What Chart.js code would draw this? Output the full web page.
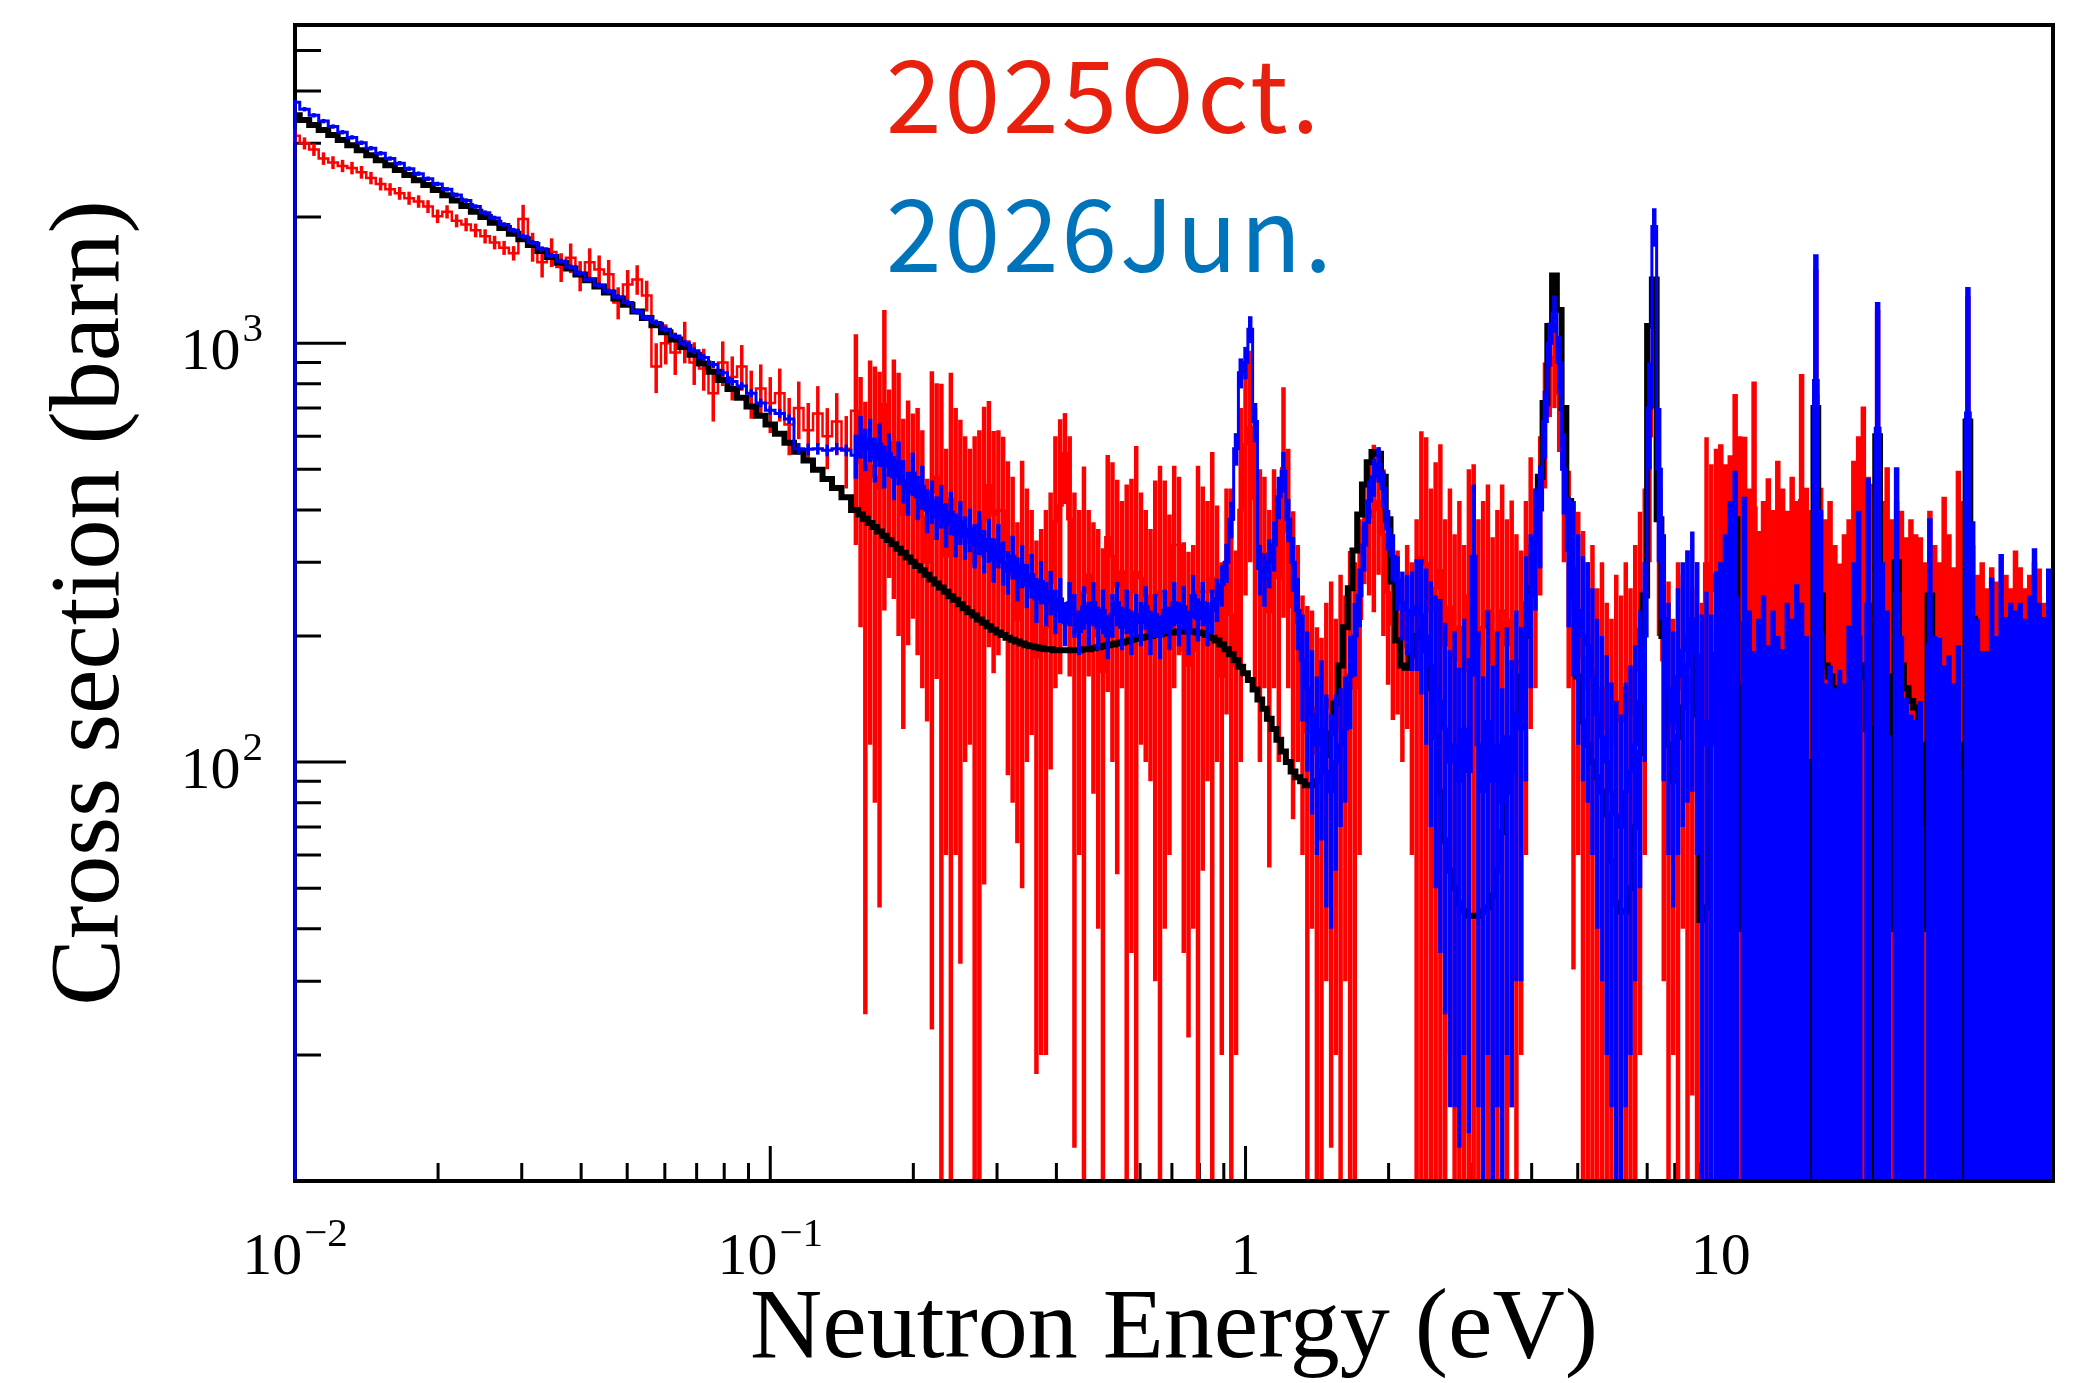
<!DOCTYPE html>
<html>
<head>
<meta charset="utf-8">
<title>Cross section</title>
<script src="https://cdn.jsdelivr.net/npm/chart.js@4.4.1/dist/chart.umd.min.js"></script>
<style>
  html, body { margin: 0; padding: 0; background: #fff; }
  canvas { display: block; }
</style>
</head>
<body>
<canvas id="chartCanvas" width="2073" height="1383"></canvas>
<script>
// bin centres in eV (thermal / epithermal / 1-10 eV / 10-50 eV)
const energy = [
  0.01000, 0.01047, 0.01096, 0.01148, 0.01202, 0.01259, 0.01318, 0.01380, 0.01445, 0.01514,
  0.01585, 0.01660, 0.01738, 0.01820, 0.01905, 0.01995, 0.02089, 0.02188, 0.02291, 0.02399,
  0.02512, 0.02630, 0.02754, 0.02884, 0.03020, 0.03162, 0.03311, 0.03467, 0.03631, 0.03802,
  0.03981, 0.04169, 0.04365, 0.04571, 0.04786, 0.05012, 0.05248, 0.05495, 0.05754, 0.06026,
  0.06310, 0.06607, 0.06918, 0.07244, 0.07586, 0.07943, 0.08318, 0.08710, 0.09120, 0.09550,
  0.1000, 0.1047, 0.1096, 0.1148, 0.1202, 0.1259, 0.1318, 0.1380, 0.1445,

  0.1514, 0.1549, 0.1585, 0.1622, 0.1660, 0.1698, 0.1738, 0.1778, 0.1820, 0.1862,
  0.1905, 0.1950, 0.1995, 0.2042, 0.2089, 0.2138, 0.2188, 0.2239, 0.2291, 0.2344,
  0.2399, 0.2455, 0.2512, 0.2570, 0.2630, 0.2692, 0.2754, 0.2818, 0.2884, 0.2951,
  0.3020, 0.3090, 0.3162, 0.3236, 0.3311, 0.3388, 0.3467, 0.3548, 0.3631, 0.3715,
  0.3802, 0.3890, 0.3981, 0.4074, 0.4169, 0.4266, 0.4365, 0.4467, 0.4571, 0.4677,
  0.4786, 0.4898, 0.5012, 0.5129, 0.5248, 0.5370, 0.5495, 0.5623, 0.5754, 0.5888,
  0.6026, 0.6166, 0.6310, 0.6457, 0.6607, 0.6761, 0.6918, 0.7079, 0.7244, 0.7413,
  0.7586, 0.7762, 0.7943, 0.8128, 0.8318, 0.8511, 0.8710, 0.8913, 0.9120, 0.9333,
  0.9550, 0.9772,

  1.000, 1.023, 1.047, 1.072, 1.096, 1.122, 1.148, 1.175, 1.202, 1.230,
  1.259, 1.288, 1.318, 1.349, 1.380, 1.413, 1.445, 1.479, 1.514, 1.549,
  1.585, 1.622, 1.660, 1.698, 1.738, 1.778, 1.820, 1.862, 1.905, 1.950,
  1.995, 2.042, 2.089, 2.138, 2.188, 2.239, 2.291, 2.344, 2.399, 2.455,
  2.512, 2.570, 2.630, 2.692, 2.754, 2.818, 2.884, 2.951, 3.020, 3.090,
  3.162, 3.236, 3.311, 3.388, 3.467, 3.548, 3.631, 3.715, 3.802, 3.890,
  3.981, 4.074, 4.169, 4.266, 4.365, 4.467, 4.571, 4.677, 4.786, 4.898,
  5.012, 5.129, 5.248, 5.370, 5.495, 5.623, 5.754, 5.888, 6.026, 6.166,
  6.310, 6.457, 6.607, 6.761, 6.918, 7.079, 7.244, 7.413, 7.586, 7.762,
  7.943, 8.128, 8.318, 8.511, 8.710, 8.913, 9.120, 9.333, 9.550, 9.772,

  10.00, 10.23, 10.47, 10.72, 10.96, 11.22, 11.48, 11.75, 12.02, 12.30,
  12.59, 12.88, 13.18, 13.49, 13.80, 14.13, 14.45, 14.79, 15.14, 15.49,
  15.85, 16.22, 16.60, 16.98, 17.38, 17.78, 18.20, 18.62, 19.05, 19.50,
  19.95, 20.42, 20.89, 21.38, 21.88, 22.39, 22.91, 23.44, 23.99, 24.55,
  25.12, 25.70, 26.30, 26.92, 27.54, 28.18, 28.84, 29.51, 30.20, 30.90,
  31.62, 32.36, 33.11, 33.88, 34.67, 35.48, 36.31, 37.15, 38.02, 38.90,
  39.81, 40.74, 41.69, 42.66, 43.65, 44.67, 45.71, 46.77, 47.86, 48.98
];

// evaluated cross section (barn), black
const evaluated = [
  3500, 3410, 3320, 3230, 3140, 3055, 2970, 2890, 2810, 2735,
  2660, 2590, 2520, 2450, 2385, 2320, 2255, 2190, 2125, 2060,
  2000, 1940, 1885, 1825, 1770, 1715, 1660, 1607, 1556, 1507,
  1459, 1413, 1365, 1321, 1279, 1236, 1191, 1148, 1104, 1062,
  1021, 980, 938, 895, 855, 817, 778, 741, 706, 671,
  640, 608, 579, 551, 525, 499, 474, 451, 429,

  400, 390, 381, 372, 364, 355, 347, 339, 331, 323,
  316, 308, 301, 294, 287, 280, 273, 267, 261, 255,
  249, 244, 238, 233, 228, 224, 219, 215, 211, 207,
  204, 201, 198, 196, 194, 192, 190, 189, 188, 187,
  186, 186, 185, 185, 185, 185, 185, 185, 186, 186,
  187, 188, 189, 190, 191, 192, 193, 194, 196, 197,
  198, 199, 200, 201, 202, 203, 204, 204, 205, 205,
  205, 205, 204, 203, 201, 198, 195, 191, 186, 181,
  175, 169,

  163, 157, 149, 141, 134, 127, 120, 113, 106, 100,
  95, 92, 90, 88, 88, 90, 95, 104, 117, 138,
  170, 210, 260, 320, 390, 460, 520, 550, 545, 480,
  380, 270, 195, 170, 168, 180, 200, 205, 185, 150,
  115, 85, 65, 55, 50, 46, 44, 43, 43, 43,
  44, 45, 48, 55, 68, 85, 105, 130, 160, 200,
  260, 340, 480, 720, 1100, 1450, 1200, 700, 420, 250,
  160, 125, 110, 100, 92, 85, 75, 58, 46, 44,
  44, 50, 70, 105, 250, 1100, 1420, 380, 200, 110,
  90, 115, 135, 170, 210, 130, 42, 45, 120, 180,

  200, 230, 300, 380, 40, 150, 160, 160, 165, 170,
  170, 175, 175, 180, 180, 185, 190, 185, 100, 8,
  700, 250, 170, 160, 150, 145, 140, 145, 150, 160,
  170, 120, 8, 600, 220, 160, 40, 300, 170, 150,
  140, 135, 110, 40, 250, 170, 150, 140, 145, 135,
  110, 8, 650, 220, 160, 150, 145, 140, 140, 145,
  150, 150, 155, 160, 165, 170, 175, 150, 30, 180
];

// 2025Oct. measurement (barn) and its errors, red
const oct2025 = [
  3130, 3000, 2900, 2760, 2700, 2650, 2620, 2560, 2480, 2400,
  2330, 2280, 2220, 2180, 2120, 2010, 2060, 1960, 1920, 1860,
  1800, 1740, 1690, 1640, 1980, 1700, 1560, 1650, 1520, 1600,
  1450, 1560, 1500, 1460, 1250, 1380, 1420, 1300, 880, 1000,
  950, 1010, 900, 870, 760, 900, 830, 880, 760, 780,
  720, 760, 640, 700, 620, 680, 600, 650, 560,

  690, 520, 375, 510, 480, 450, 715, 525, 580, 525,
  390, 460, 450, 440, 385, 300, 440, 480, 400, 310,
  425, 380, 345, 350, 335, 300, 310, 378, 458, 390,
  400, 398, 308, 280, 219, 287, 275, 258, 178, 190,
  210, 268, 375, 410, 547, 380, 226, 230, 254, 280,
  229, 200, 164, 344, 310, 263, 285, 230, 255, 284,
  275, 250, 225, 250, 255, 255, 225, 330, 330, 185,
  170, 185, 255, 255, 255, 275, 255, 160, 290, 225,
  170, 400,

  575, 630, 425, 300, 315, 228, 325, 275, 503, 355,
  235, 215, 155, 118, 135, 105, 99, 135, 141, 120,
  140, 140, 162, 150, 220, 363, 385, 400, 420, 350,
  254, 213, 225, 188, 225, 180, 190, 308, 298, 230,
  260, 287, 190, 235, 175, 210, 165, 250, 257, 190,
  210, 230, 172, 200, 230, 190, 218, 175, 170, 240,
  327, 300, 425, 675, 883, 928, 757, 500, 323, 226,
  228, 178, 150, 165, 130, 150, 120, 110, 140, 125,
  150, 130, 165, 208, 255, 600, 1068, 450, 175, 135,
  120, 150, 160, 160, 138, 150, 120, 298, 257, 280,

  287, 257, 270, 378, 300, 299, 225, 405, 178, 210,
  238, 200, 262, 225, 199, 240, 210, 422, 226, 200,
  750, 226, 190, 210, 165, 149, 175, 190, 262, 300,
  353, 240, 231, 600, 210, 253, 190, 210, 199, 172,
  190, 175, 172, 150, 199, 165, 150, 215, 175, 146,
  248, 210, 650, 165, 140, 150, 130, 146, 135, 125,
  140, 130, 160, 146, 130, 140, 150, 145, 120, 110
];
const oct2025Err = [
  110, 100, 100, 95, 95, 90, 90, 90, 85, 85,
  80, 80, 80, 75, 75, 75, 75, 70, 70, 70,
  70, 65, 65, 65, 160, 135, 125, 130, 120, 130,
  120, 125, 120, 120, 110, 115, 115, 110, 120, 110,
  110, 115, 105, 100, 110, 110, 100, 110, 100, 110,
  110, 110, 100, 110, 100, 110, 100, 110, 110,

  360, 310, 350, 400, 400, 405, 485, 250, 335, 325,
  270, 270, 230, 260, 235, 175, 417, 322, 400, 250,
  425, 320, 312, 250, 225, 300, 310, 327, 270, 227,
  220, 200, 215, 200, 155, 237, 175, 142, 160, 170,
  190, 172, 225, 248, 134, 220, 214, 170, 254, 120,
  145, 160, 160, 197, 210, 209, 135, 230, 220, 284,
  165, 150, 135, 220, 255, 215, 165, 180, 150, 150,
  148, 145, 255, 200, 165, 275, 155, 140, 160, 225,
  150, 300,

  325, 330, 275, 200, 165, 172, 175, 175, 282, 205,
  162, 115, 95, 118, 95, 105, 99, 105, 129, 100,
  140, 110, 157, 150, 160, 97, 135, 172, 140, 150,
  101, 87, 95, 88, 105, 120, 190, 308, 298, 220,
  260, 287, 190, 215, 175, 210, 165, 250, 257, 190,
  210, 230, 172, 200, 230, 190, 203, 175, 150, 180,
  207, 150, 175, 225, 217, 228, 207, 200, 173, 194,
  168, 178, 150, 165, 130, 150, 120, 110, 140, 125,
  150, 130, 165, 188, 195, 300, 368, 250, 145, 135,
  100, 150, 120, 160, 122, 150, 120, 298, 257, 280,

  287, 257, 270, 378, 300, 299, 225, 405, 178, 210,
  238, 200, 262, 225, 199, 240, 210, 422, 226, 200,
  750, 226, 190, 210, 165, 149, 175, 190, 262, 300,
  353, 240, 231, 600, 210, 253, 190, 210, 199, 172,
  190, 175, 172, 150, 199, 165, 150, 215, 175, 146,
  248, 210, 650, 165, 140, 150, 130, 146, 135, 125,
  140, 130, 160, 146, 130, 140, 150, 145, 120, 110
];

// 2026Jun. measurement (barn) and its errors, blue
const jun2026 = [
  3760, 3620, 3500, 3390, 3290, 3190, 3100, 3010, 2920, 2840,
  2760, 2690, 2610, 2540, 2470, 2400, 2330, 2260, 2190, 2120,
  2050, 1990, 1920, 1860, 1800, 1740, 1680, 1620, 1570, 1520,
  1470, 1420, 1375, 1330, 1290, 1250, 1190, 1150, 1120, 1080,
  1040, 1000, 960, 925, 890, 850, 810, 790, 760, 720,
  692, 680, 659, 560, 558, 560, 555, 560, 555,

  540, 600, 560, 590, 530, 575, 510, 545, 480, 520,
  470, 440, 490, 430, 455, 400, 420, 385, 410, 370,
  395, 350, 375, 345, 360, 330, 355, 320, 340, 305,
  330, 300, 285, 310, 275, 295, 265, 280, 245, 270,
  240, 255, 230, 245, 215, 240, 225, 205, 235, 215,
  240, 210, 230, 200, 225, 240, 210, 230, 205, 225,
  215, 235, 205, 225, 200, 230, 210, 240, 215, 235,
  205, 250, 220, 240, 215, 230, 245, 265, 300, 380,
  560, 850,

  900, 1080, 650, 290, 275, 300, 330, 430, 495, 380,
  300, 230, 175, 150, 130, 110, 120, 95, 85, 100,
  110, 120, 160, 200, 250, 330, 420, 480, 515, 450,
  360, 310, 270, 240, 230, 225, 235, 225, 200, 170,
  150, 140, 120, 100, 110, 90, 120, 95, 310, 110,
  85, 125, 90, 110, 80, 115, 95, 130, 120, 200,
  250, 340, 400, 650, 1000, 1180, 900, 500, 320, 290,
  230, 200, 190, 160, 130, 115, 100, 85, 75, 70,
  85, 95, 110, 140, 200, 700, 1900, 500, 220, 150,
  125, 160, 185, 200, 220, 180, 110, 125, 110, 140,

  150, 175, 210, 248, 3, 215, 115, 92, 110, 125,
  95, 115, 100, 93, 120, 110, 133, 120, 100, 3,
  815, 200, 77, 85, 75, 83, 77, 106, 150, 199,
  3, 238, 3, 627, 150, 115, 3, 253, 100, 71,
  65, 63, 70, 3, 191, 100, 99, 85, 90, 77,
  95, 3, 681, 188, 110, 92, 92, 138, 100, 157,
  111, 120, 115, 120, 110, 125, 162, 120, 111, 145
];
const jun2026Err = [
  45, 44, 42, 41, 40, 39, 38, 37, 36, 35,
  34, 33, 32, 31, 31, 30, 29, 28, 28, 27,
  26, 26, 25, 25, 24, 24, 23, 23, 22, 22,
  21, 21, 21, 20, 20, 20, 19, 19, 19, 18,
  18, 18, 18, 17, 17, 17, 17, 17, 17, 17,
  17, 17, 17, 18, 18, 18, 18, 18, 18,

  65, 70, 65, 70, 65, 68, 60, 65, 58, 62,
  56, 53, 58, 52, 55, 48, 50, 46, 49, 45,
  47, 42, 45, 41, 43, 40, 43, 38, 41, 37,
  40, 36, 34, 37, 33, 35, 32, 34, 30, 32,
  29, 31, 28, 30, 26, 29, 27, 25, 28, 26,
  29, 25, 28, 24, 27, 29, 25, 28, 25, 27,
  26, 28, 25, 27, 24, 28, 25, 29, 26, 28,
  25, 30, 26, 29, 26, 28, 29, 30, 32, 38,
  50, 70,

  80, 80, 70, 40, 40, 40, 45, 50, 55, 45,
  45, 45, 50, 55, 55, 50, 55, 50, 45, 45,
  40, 40, 40, 40, 40, 45, 50, 50, 50, 45,
  40, 40, 40, 45, 50, 60, 70, 80, 90, 100,
  100, 105, 95, 85, 95, 78, 100, 82, 150, 95,
  75, 105, 80, 95, 70, 95, 80, 100, 90, 110,
  100, 110, 110, 120, 120, 120, 140, 110, 110, 130,
  120, 110, 110, 100, 90, 85, 80, 70, 65, 60,
  70, 75, 80, 90, 100, 200, 200, 200, 130, 90,
  80, 100, 115, 120, 135, 120, 115, 130, 115, 145,

  150, 175, 210, 248, 1, 215, 115, 92, 110, 125,
  95, 115, 100, 93, 120, 110, 133, 120, 100, 1,
  815, 200, 77, 85, 75, 83, 77, 106, 150, 199,
  1, 238, 1, 627, 150, 115, 1, 253, 100, 71,
  65, 63, 70, 1, 191, 100, 99, 85, 90, 77,
  95, 1, 681, 188, 110, 92, 92, 138, 100, 157,
  111, 120, 115, 120, 110, 125, 162, 120, 111, 145
];

// axis ticks and labels
const xMajorTicks = [0.01, 0.1, 1, 10];
const xMinorTicks = [0.02, 0.03, 0.04, 0.05, 0.06, 0.07, 0.08, 0.09,
  0.2, 0.3, 0.4, 0.5, 0.6, 0.7, 0.8, 0.9, 2, 3, 4, 5, 6, 7, 8, 9, 20, 30, 40];
const xTickLabels = [["10", "\u22122"], ["10", "\u22121"], ["1", ""], ["10", ""]];
const yMajorTicks = [100, 1000];
const yMinorTicks = [20, 30, 40, 50, 60, 70, 80, 90,
  200, 300, 400, 500, 600, 700, 800, 900, 2000, 3000, 4000, 5000];
const yTickLabels = [["10", "2"], ["10", "3"]];

const serif = '"Liberation Serif", "Times New Roman", serif';
const sans = '"Noto Sans CJK JP", "Noto Sans", sans-serif';

const histLine = (vals) => energy.map((e, i) => ({ x: e, y: vals[i] }));

const errorBars = (vals, errs) => {
  const pts = [];
  energy.forEach((e, i) => {
    pts.push({ x: e, y: Math.max(vals[i] - errs[i], 1) });
    pts.push({ x: e, y: vals[i] + errs[i] });
    pts.push({ x: e, y: null });
  });
  return pts;
};

// bars get wider where the bins are packed tighter
const barWidth = (ctx) => {
  const e = ctx.p0.parsed.x;
  if (e >= 9.9) return 5.5;
  if (e >= 0.15) return 4.5;
  return 3.5;
};

const drawPower = (ctx, base, exp, x, y, align) => {
  ctx.font = "60px " + serif;
  const wb = ctx.measureText(base).width;
  ctx.font = "41px " + serif;
  const we = exp ? ctx.measureText(exp).width + 2 : 0;
  const total = wb + we;
  const left = align === "center" ? x - total / 2 : x - total;
  ctx.textAlign = "left";
  ctx.font = "60px " + serif;
  ctx.fillText(base, left, y);
  if (exp) {
    ctx.font = "41px " + serif;
    ctx.fillText(exp, left + wb + 2, y - 28);
  }
};

const rootAxes = {
  id: "rootAxes",
  beforeDatasetsDraw(chart) {
    const { ctx, chartArea: a, scales: { x, y } } = chart;
    ctx.save();
    ctx.strokeStyle = "#000";
    ctx.lineWidth = 4;
    ctx.strokeRect(a.left, a.top, a.right - a.left, a.bottom - a.top);
    ctx.lineWidth = 3;
    ctx.beginPath();
    const tick = (px, py, dx, dy) => { ctx.moveTo(px, py); ctx.lineTo(px + dx, py + dy); };
    xMinorTicks.forEach(v => tick(x.getPixelForValue(v), a.bottom, 0, -18));
    xMajorTicks.forEach(v => tick(x.getPixelForValue(v), a.bottom, 0, -35));
    yMinorTicks.forEach(v => tick(a.left, y.getPixelForValue(v), 26, 0));
    yMajorTicks.forEach(v => tick(a.left, y.getPixelForValue(v), 51, 0));
    ctx.stroke();
    ctx.restore();
  },
  afterDraw(chart) {
    const { ctx, chartArea: a, scales: { x, y } } = chart;
    ctx.save();
    ctx.fillStyle = "#000";
    ctx.textBaseline = "alphabetic";
    xMajorTicks.forEach((v, i) => {
      drawPower(ctx, xTickLabels[i][0], xTickLabels[i][1], x.getPixelForValue(v), 1274, "center");
    });
    yMajorTicks.forEach((v, i) => {
      drawPower(ctx, yTickLabels[i][0], yTickLabels[i][1], a.left - 32, y.getPixelForValue(v) + 26, "right");
    });

    ctx.font = "100px " + serif;
    ctx.textAlign = "center";
    ctx.fillText("Neutron Energy (eV)", (a.left + a.right) / 2, 1357);
    ctx.save();
    ctx.translate(118, (a.top + a.bottom) / 2);
    ctx.rotate(-Math.PI / 2);
    ctx.fillText("Cross section (barn)", 0, 0);
    ctx.restore();

    ctx.font = "100px " + sans;
    ctx.textAlign = "left";
    ctx.letterSpacing = "3px";
    ctx.fillStyle = "#e8210f";
    ctx.fillText("2025Oct.", 886, 133);
    ctx.fillStyle = "#0074bb";
    ctx.fillText("2026Jun.", 886, 272);
    ctx.restore();
  }
};

const clipBox = { left: 3, top: 0, right: 0, bottom: -2 };

new Chart(document.getElementById("chartCanvas").getContext("2d"), {
  type: "line",
  data: {
    datasets: [
      {
        label: "2026Jun. errors",
        data: errorBars(jun2026, jun2026Err),
        borderColor: "#0000ff",
        borderWidth: 3.5,
        segment: { borderWidth: barWidth },
        clip: clipBox,
        order: 0,
      },
      {
        label: "2026Jun.",
        data: [{ x: energy[0], y: 1 }, ...histLine(jun2026)],
        borderColor: "#0000ff",
        borderWidth: 3,
        stepped: "middle",
        clip: clipBox,
        order: 1,
      },
      {
        label: "Evaluated",
        data: histLine(evaluated),
        borderColor: "#000000",
        borderWidth: 6,
        stepped: "middle",
        clip: clipBox,
        order: 2,
      },
      {
        label: "2025Oct.",
        data: histLine(oct2025),
        borderColor: "#ff0000",
        borderWidth: 2.5,
        stepped: "middle",
        clip: clipBox,
        order: 3,
      },
      {
        label: "2025Oct. errors",
        data: errorBars(oct2025, oct2025Err),
        borderColor: "#ff0000",
        borderWidth: 3.5,
        segment: { borderWidth: barWidth },
        clip: clipBox,
        order: 4,
      },
    ],
  },
  options: {
    responsive: false,
    animation: false,
    devicePixelRatio: 1,
    spanGaps: false,
    layout: { padding: { left: 295, right: 20, top: 25, bottom: 202 } },
    elements: {
      point: { radius: 0 },
      line: { tension: 0, fill: false },
    },
    scales: {
      x: { type: "logarithmic", min: 0.01, max: 50, display: false },
      y: { type: "logarithmic", min: 10, max: 5750, display: false },
    },
    plugins: {
      legend: { display: false },
      tooltip: { enabled: false },
    },
  },
  plugins: [rootAxes],
});
</script>
</body>
</html>
